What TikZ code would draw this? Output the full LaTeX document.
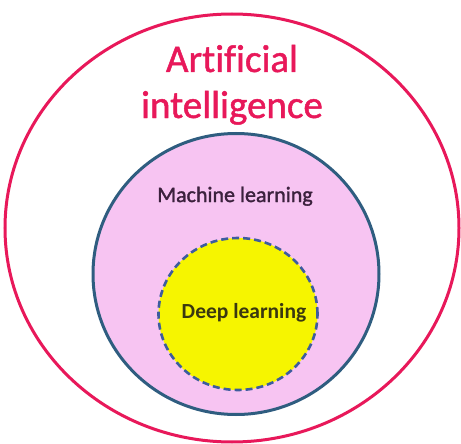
\documentclass[tikz,border=0pt]{standalone}
\usepackage{fontspec}
\setmainfont{Carlito}[Ligatures=NoCommon]
\usetikzlibrary{shapes.geometric}
\definecolor{aired}{HTML}{E8185A}
\definecolor{mlfill}{HTML}{F7C4F2}
\definecolor{mlline}{HTML}{2F5D80}
\definecolor{dlfill}{HTML}{F6F500}
\definecolor{dlline}{HTML}{3D5C9E}
\definecolor{mltext}{HTML}{3B213D}
\definecolor{dltext}{HTML}{3A3810}
\tikzset{
  ring/.style={line width=3pt},
  lbl/.style={inner sep=0pt, anchor=base}
}
\begin{document}
\begin{tikzpicture}[x=1pt,y=-1pt]
\useasboundingbox (0,0) rectangle (461,444);
\fill[white] (0,0) rectangle (461,444);
\node[ring, draw=aired, ellipse, minimum width=454pt, minimum height=428pt, inner sep=0pt] (ai) at (232,228) {};
\node[ring, draw=mlline, fill=mlfill, ellipse, minimum width=286pt, minimum height=281pt, inner sep=0pt] (ml) at (236,274) {};
\node[line width=2.6pt, draw=dlline, fill=dlfill, dash pattern=on 7pt off 4pt, ellipse, minimum width=159pt, minimum height=152pt, inner sep=0pt] (dl) at (238,314) {};
\node[lbl, text=aired, font=\addfontfeature{FakeBold=1.2}\fontsize{39}{46}\selectfont] (ait1) at (232,72) {Artificial};
\node[lbl, text=aired, font=\addfontfeature{FakeBold=1.2}\fontsize{39}{46}\selectfont] (ait2) at (232,118) {intelligence};
\node[lbl, text=mltext, font=\addfontfeature{FakeBold=1.5}\fontsize{22}{26}\selectfont] (mlt) at (235,202) {Machine learning};
\node[lbl, text=dltext, font=\bfseries\fontsize{21.5}{26}\selectfont] (dlt) at (244,318) {Deep learning};
\end{tikzpicture}
\end{document}
